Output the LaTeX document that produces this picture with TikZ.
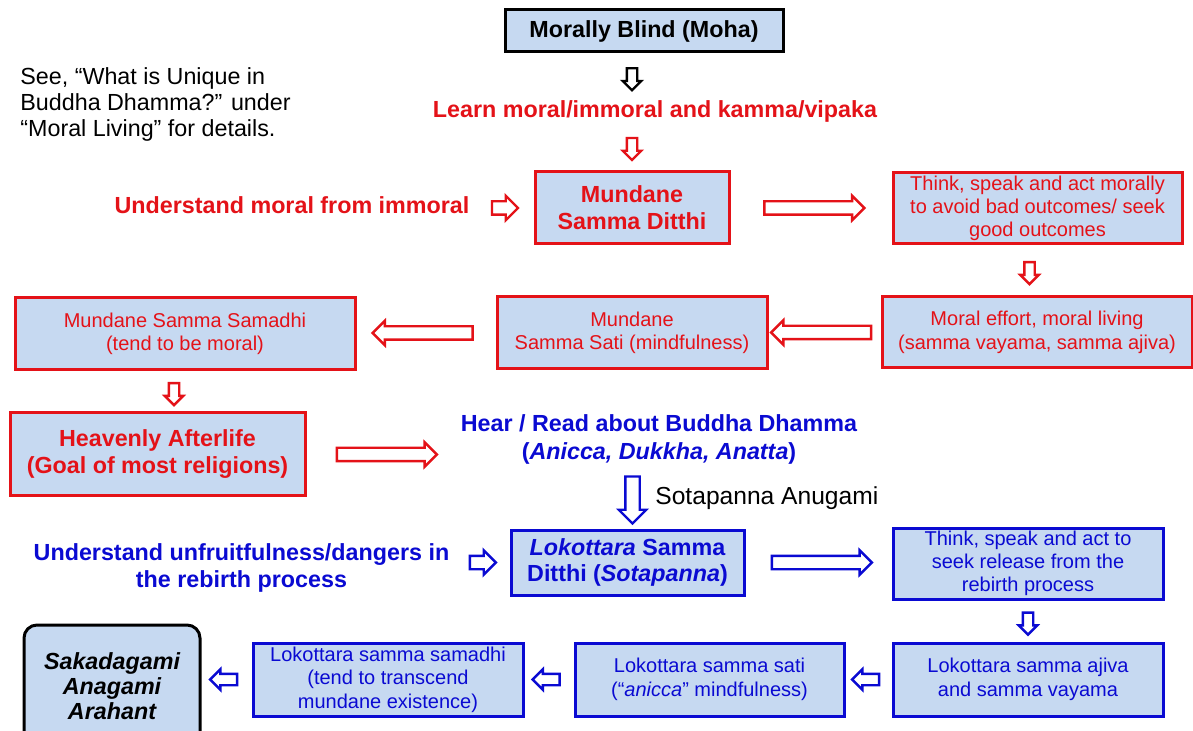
\documentclass[tikz,border=0pt]{standalone}
\usepackage{fontspec}
\setmainfont{Liberation Sans}
\usetikzlibrary{shapes.arrows}

\definecolor{boxfill}{HTML}{C6D9F1}
\definecolor{myred}{RGB}{228,18,24}
\definecolor{myblue}{RGB}{10,10,210}
\newcommand{\bigtxt}{\fontsize{11.65pt}{13.5pt}\selectfont}
\newcommand{\smtxt}{\fontsize{10pt}{11.75pt}\selectfont}

\begin{document}
\begin{tikzpicture}[x=0.5pt,y=-0.5pt,
        box/.style={rectangle,draw,fill=boxfill,line width=1.5pt,inner sep=0pt,align=center},
        red box/.style={box,draw=myred,text=myred,font=\smtxt},
        blue box/.style={box,draw=myblue,text=myblue,font=\smtxt},
        red text/.style={inner sep=0pt,align=center,text=myred,font=\bigtxt\bfseries},
        blue text/.style={inner sep=0pt,align=center,text=myblue,font=\bigtxt\bfseries},
        fat arrow/.style={single arrow,draw,fill=white,line width=1.2pt,inner xsep=0pt,
          inner ysep=2.75pt,single arrow head extend=2.75pt,sloped,allow upside down},
        long arrow/.style={fat arrow,minimum height=50pt},
        short arrow/.style={fat arrow,minimum height=13pt},
        small arrow/.style={fat arrow,inner ysep=2pt,single arrow head extend=2pt,minimum height=11pt},
        tiny arrow/.style={fat arrow,inner ysep=2.25pt,single arrow head extend=2.25pt,minimum height=13.5pt},
        tall arrow/.style={fat arrow,inner ysep=3pt,single arrow head extend=3.25pt,minimum height=23.5pt}]

      \path[use as bounding box,fill=white] (0,0) rectangle (1193,731);

      % mundane path
      \node[box,draw=black,font=\bigtxt\bfseries,minimum width=139pt,minimum height=21pt] (1) at (644,31) {Morally Blind (Moha)};
      \node[red text] (2) at (655,111) {Learn moral/immoral and kamma/vipaka};
      \node[red box,font=\bigtxt\bfseries,minimum width=97pt,minimum height=36pt] (3) at (632,208) {Mundane\\Samma Ditthi};
      \node[red text] (4) at (292,205) {Understand moral from immoral};
      \node[red box,font={\fontsize{10pt}{11.5pt}\selectfont},minimum width=144.5pt,minimum height=35.5pt] (5) at (1037.5,208.5) {Think, speak and act morally\\to avoid bad outcomes/ seek\\good outcomes};
      \node[red box,minimum width=155pt,minimum height=35.5pt] (6) at (1037,332.5) {Moral effort, moral living\\(samma vayama, samma ajiva)};
      \node[red box,minimum width=135pt,minimum height=36pt] (7) at (632,333) {Mundane\\Samma Sati (mindfulness)};
      \node[red box,minimum width=170pt,minimum height=36pt] (8) at (185,334) {Mundane Samma Samadhi\\(tend to be moral)};
      \node[red box,font=\bigtxt\bfseries,minimum width=147.5pt,minimum height=41.5pt] (9) at (157.5,454.5) {Heavenly Afterlife\\(Goal of most religions)};

      % lokottara path
      \node[blue text,font={\fontsize{11.65pt}{14pt}\selectfont\bfseries}] (10) at (659,439) {Hear / Read about Buddha Dhamma\\(\textit{Anicca, Dukkha, Anatta})};
      \node[blue box,font={\fontsize{11.65pt}{13pt}\selectfont\bfseries},minimum width=116.5pt,minimum height=32.5pt] (11) at (627.5,562.5) {\textit{Lokottara} Samma\\Ditthi (\textit{Sotapanna})};
      \node[blue text] (12) at (241.5,568) {Understand unfruitfulness/dangers in\\the rebirth process};
      \node[blue box,font={\fontsize{10pt}{11.5pt}\selectfont},minimum width=135pt,minimum height=35.5pt] (13) at (1028,563.5) {Think, speak and act to\\seek release from the\\rebirth process};
      \node[blue box,minimum width=135pt,minimum height=36.5pt] (14) at (1028,679.5) {Lokottara samma ajiva\\and samma vayama};
      \node[blue box,minimum width=134.5pt,minimum height=36.5pt] (15) at (709.5,679.5) {Lokottara samma sati\\(“\textit{anicca}” mindfulness)};
      \node[blue box,minimum width=135pt,minimum height=36.5pt] (16) at (388,679.5) {Lokottara samma samadhi\\(tend to transcend\\mundane existence)};
      \node[box,draw=black,rounded corners=6.5pt,font={\fontsize{11.65pt}{12.5pt}\selectfont\bfseries\itshape},minimum width=88pt,minimum height=61pt] (17) at (112,686) {Sakadagami\\Anagami\\Arahant};

      \node[inner sep=0pt,align=left,anchor=west,font={\fontsize{11.65pt}{13pt}\selectfont}] (18) at (20,104) {See, “What is Unique in\\Buddha Dhamma?” under\\“Moral Living” for details.};
      \node[inner sep=0pt,anchor=west,font={\fontsize{12.3pt}{14pt}\selectfont}] (19) at (655,498) {Sotapanna Anugami};

      \path (1.south -| 3.north) -- node[small arrow,draw=black] {} (2.north -| 3.north)
        (2.south -| 3.north) -- node[small arrow,draw=myred] {} (3.north)
        (4.east |- 3.west) -- node[short arrow,draw=myred] {} (3.west)
        (3.east) -- node[long arrow,draw=myred] {} (3.east -| 5.west)
        ([xshift=-4pt]5.south) -- node[small arrow,draw=myred] {} ([xshift=-4pt]5.south |- 6.north)
        (6.west) -- node[long arrow,draw=myred] {} (6.west -| 7.east)
        (7.west) -- node[long arrow,draw=myred] {} (7.west -| 8.east)
        ([xshift=-5.5pt]8.south) -- node[small arrow,draw=myred] {} ([xshift=-5.5pt]8.south |- 9.north)
        (9.east) -- node[long arrow,draw=myred] {} (9.east -| 10.west);

      \path ([xshift=2.5pt]10.south -| 11.north) -- node[tall arrow,draw=myblue] {} ([xshift=2.5pt]11.north)
        (12.east |- 11.west) -- node[short arrow,draw=myblue] {} (11.west)
        (11.east) -- node[long arrow,draw=myblue] {} (11.east -| 13.west)
        (13.south) -- node[small arrow,draw=myblue] {} (14.north)
        (14.west) -- node[tiny arrow,draw=myblue] {} (14.west -| 15.east)
        (15.west) -- node[tiny arrow,draw=myblue] {} (15.west -| 16.east)
        (16.west) -- node[tiny arrow,draw=myblue] {} (16.west -| 17.east);
    \end{tikzpicture}
\end{document}
